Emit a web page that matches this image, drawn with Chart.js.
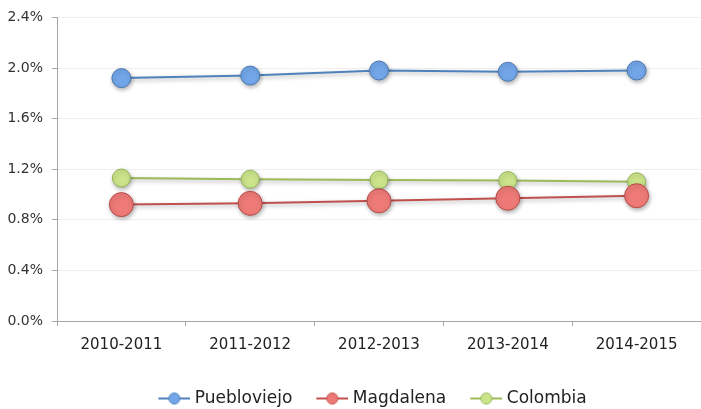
<!DOCTYPE html>
<html>
<head>
<meta charset="utf-8">
<script src="https://cdn.jsdelivr.net/npm/chart.js@4.4.1/dist/chart.umd.min.js"></script>
<style>
  html, body { margin: 0; padding: 0; background: #fff; }
  #wrap { width: 701px; height: 409px; }
</style>
</head>
<body>
<div id="wrap"><canvas id="tasaChart"></canvas></div>
<script>
const categories = ["2010-2011", "2011-2012", "2012-2013", "2013-2014", "2014-2015"];
const puebloviejo = [1.92, 1.94, 1.98, 1.97, 1.98];
const magdalena = [0.92, 0.93, 0.95, 0.97, 0.99];
const colombia = [1.13, 1.12, 1.115, 1.11, 1.10];
const yTicks = [0.0, 0.4, 0.8, 1.2, 1.6, 2.0, 2.4];

Chart.defaults.font.family = "'DejaVu Sans', sans-serif";
Chart.defaults.color = "#333";

// icono de leyenda: línea con círculo (margen transparente a la izquierda)
function legendIcon(line, fill) {
    const c = document.createElement("canvas");
    c.width = 56;
    c.height = 14;
    const g = c.getContext("2d");
    g.strokeStyle = line;
    g.lineWidth = 2;
    g.beginPath();
    g.moveTo(24, 7);
    g.lineTo(56, 7);
    g.stroke();
    g.fillStyle = fill;
    g.beginPath();
    g.arc(40, 7, 5.5, 0, Math.PI * 2);
    g.fill();
    g.lineWidth = 1;
    g.stroke();
    return c;
}

const shadowPlugin = {
    id: "shadow",
    beforeDatasetsDraw(chart) {
        const ctx = chart.ctx;
        ctx.save();
        ctx.shadowColor = "rgba(0,0,0,0.3)";
        ctx.shadowBlur = 4;
        ctx.shadowOffsetY = 2;
        ctx.shadowOffsetX = 1;
    },
    afterDatasetsDraw(chart) {
        chart.ctx.restore();
    },
};

// la leyenda del original está un poco corrida a la derecha
const legendShift = {
    id: "legendShift",
    afterLayout(chart) {
        chart.legend.left += 12;
        chart.legend.right += 12;
    },
};

new Chart(document.getElementById("tasaChart").getContext("2d"), {
    type: "line",
    data: {
        labels: categories,
        datasets: [
            {
                label: "Puebloviejo",
                data: puebloviejo,
                borderColor: "#4f81bd",
                backgroundColor: "#72a6e8",
                pointBorderColor: "#4a78b0",
                borderWidth: 2,
                pointRadius: 9.5,
                pointBorderWidth: 1,
                icon: legendIcon("#4f81bd", "#72a6e8"),
            },
            {
                label: "Magdalena",
                data: magdalena,
                borderColor: "#c0504d",
                backgroundColor: "#ee7a77",
                pointBorderColor: "#b84a47",
                borderWidth: 2,
                pointRadius: 12,
                pointBorderWidth: 1,
                icon: legendIcon("#c0504d", "#ee7a77"),
            },
            {
                label: "Colombia",
                data: colombia,
                borderColor: "#9bbb59",
                backgroundColor: "#cbe48a",
                pointBorderColor: "#94b356",
                borderWidth: 2,
                pointRadius: 9,
                pointBorderWidth: 1,
                icon: legendIcon("#9bbb59", "#cbe48a"),
            },
        ],
    },
    options: {
        responsive: true,
        maintainAspectRatio: false,
        animation: false,
        layout: { autoPadding: false, padding: { top: 6, right: 0, left: 0, bottom: -8 } },
        plugins: {
            tooltip: { enabled: false },
            legend: {
                position: "bottom",
                labels: {
                    usePointStyle: true,
                    pointStyleWidth: 48,
                    padding: 4,
                    color: "#222",
                    font: { size: 17 },
                    generateLabels(chart) {
                        return chart.data.datasets.map((ds, i) => ({
                            text: ds.label,
                            pointStyle: ds.icon,
                            datasetIndex: i,
                            hidden: false,
                            lineWidth: 0,
                            fontColor: "#222",
                        }));
                    },
                },
            },
        },
        scales: {
            y: {
                min: 0,
                max: 2.4,
                afterBuildTicks(scale) {
                    scale.ticks = yTicks.map((v) => ({ value: v }));
                },
                afterFit(scale) {
                    scale.width = 57;
                },
                border: { color: "#a6a6a6", width: 1 },
                grid: {
                    color: (c) => (c.tick && c.tick.value === 0 ? "#a6a6a6" : "#f0f0f0"),
                    tickColor: "#a6a6a6",
                    tickLength: 5,
                },
                ticks: {
                    padding: 9,
                    font: { size: 14 },
                    color: "#333",
                    callback: (v) => v.toFixed(1) + "%",
                },
            },
            x: {
                offset: true,
                afterFit(scale) {
                    scale.height = 65;
                    scale.paddingLeft = 0;
                    scale.paddingRight = 0;
                },
                border: { color: "#a6a6a6", width: 1 },
                grid: {
                    offset: true,
                    drawOnChartArea: false,
                    color: "#a6a6a6",
                    tickLength: 5,
                },
                ticks: {
                    padding: 10,
                    font: { size: 15 },
                    color: "#222",
                    maxRotation: 0,
                },
            },
        },
    },
    plugins: [shadowPlugin, legendShift],
});
</script>
</body>
</html>
